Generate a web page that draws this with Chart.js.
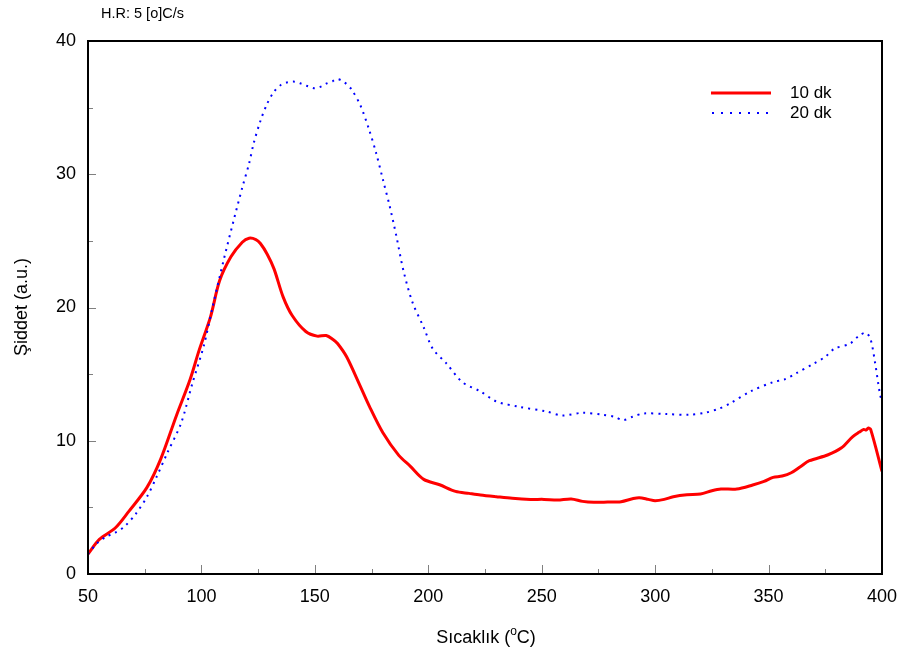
<!DOCTYPE html>
<html>
<head>
<meta charset="utf-8">
<script src="https://cdn.jsdelivr.net/npm/chart.js@4.4.1/dist/chart.umd.min.js"></script>
<style>
  html, body { margin: 0; padding: 0; background: #fff; }
  #wrap { width: 905px; height: 657px; }
</style>
</head>
<body>
<div id="wrap"><canvas id="chart" width="905" height="657"></canvas></div>
<script>
// 10 dk series
const temps10 = [50, 55, 62, 68, 76, 82, 89, 95, 99, 104, 108, 113, 118, 121, 124, 126, 129, 132, 136, 140,
    146, 151, 155, 158, 160, 164, 170, 174, 180, 187, 192, 198, 205, 212, 218, 223, 230, 237, 245, 251,
    257, 263, 268, 273, 279, 285, 290, 293, 297, 300, 304, 308, 314, 320, 325, 329, 336, 343, 348, 352,
    356, 360, 364, 368, 376, 382, 387, 390, 392, 393, 394, 395, 400];
const values10 = [1.5, 2.6, 3.45, 4.7, 6.5, 8.6, 11.9, 14.6, 16.8, 19.3, 22.0, 23.8, 24.9, 25.2, 25.1, 24.8, 24.0, 22.9, 20.8, 19.4,
    18.2, 17.85, 17.9, 17.6, 17.3, 16.3, 14.1, 12.6, 10.6, 8.9, 8.1, 7.1, 6.7, 6.2, 6.05, 5.93, 5.8, 5.68, 5.6, 5.6,
    5.55, 5.63, 5.45, 5.38, 5.4, 5.43, 5.65, 5.73, 5.6, 5.5, 5.6, 5.8, 5.95, 6.0, 6.25, 6.38, 6.38, 6.68, 6.95, 7.25,
    7.35, 7.6, 8.05, 8.5, 8.93, 9.45, 10.3, 10.65, 10.85, 10.8, 10.95, 10.85, 7.7];

// 20 dk series
const temps20 = [50, 54, 58, 62, 66, 71, 76, 80, 85, 91, 96, 101, 105, 110, 114, 118, 121, 123, 126, 129,
    132, 135, 138, 141, 144, 147, 150, 153, 155, 158, 160, 163, 166, 170, 174, 177, 180, 183, 186, 189,
    193, 198, 202, 208, 215, 223, 230, 240, 252, 259, 268, 277, 282, 286, 290, 295, 305, 315, 322, 328,
    333, 342, 352, 357, 362, 370, 375, 379, 386, 390, 393, 395, 397, 399, 400];
const values20 = [1.5, 2.3, 2.8, 3.1, 3.55, 4.5, 5.8, 7.2, 9.1, 11.3, 14.3, 17.1, 20.1, 23.7, 26.4, 29.0, 30.8, 32.3, 34.0, 35.3,
    36.2, 36.7, 36.9, 36.95, 36.8, 36.6, 36.45, 36.6, 36.8, 37.0, 37.15, 36.9, 36.4, 35.2, 33.3, 31.6, 29.6, 27.6, 25.3, 22.8,
    20.4, 18.5, 16.9, 15.8, 14.4, 13.7, 12.95, 12.55, 12.2, 11.9, 12.1, 11.95, 11.8, 11.55, 11.8, 12.05, 12.0, 11.95, 12.1, 12.4,
    12.8, 13.7, 14.4, 14.6, 15.05, 15.8, 16.3, 16.9, 17.3, 17.9, 18.1, 17.6, 15.8, 13.6, 12.9];

const xMajor = [50, 100, 150, 200, 250, 300, 350, 400];
const xMinor = [75, 125, 175, 225, 275, 325, 375];
const yMajor = [0, 10, 20, 30, 40];
const yMinor = [5, 15, 25, 35];

const FONT = '"Liberation Sans", Arial, sans-serif';

function toPoints(xs, ys) {
    return xs.map((x, i) => ({ x: x, y: ys[i] }));
}

// frame, inward ticks, legend, titles
const decorations = {
    id: 'decorations',
    afterDraw(chart) {
        const ctx = chart.ctx;
        const area = chart.chartArea;
        const xs = chart.scales.x;
        const ys = chart.scales.y;
        ctx.save();

        // ticks pointing into the plot
        ctx.strokeStyle = '#808080';
        ctx.lineWidth = 1;
        ctx.beginPath();
        xMajor.forEach((v) => { const p = Math.round(xs.getPixelForValue(v)) + 0.5; ctx.moveTo(p, area.bottom); ctx.lineTo(p, area.bottom - 9); });
        xMinor.forEach((v) => { const p = Math.round(xs.getPixelForValue(v)) + 0.5; ctx.moveTo(p, area.bottom); ctx.lineTo(p, area.bottom - 5); });
        yMajor.forEach((v) => { const p = Math.round(ys.getPixelForValue(v)) + 0.5; ctx.moveTo(area.left, p); ctx.lineTo(area.left + 8, p); });
        yMinor.forEach((v) => { const p = Math.round(ys.getPixelForValue(v)) + 0.5; ctx.moveTo(area.left, p); ctx.lineTo(area.left + 5, p); });
        ctx.stroke();

        // frame
        ctx.strokeStyle = '#000';
        ctx.lineWidth = 2;
        ctx.strokeRect(area.left, area.top, area.right - area.left, area.bottom - area.top);

        // legend
        ctx.lineWidth = 3;
        ctx.strokeStyle = '#ff0000';
        ctx.beginPath(); ctx.moveTo(711, 93); ctx.lineTo(771, 93); ctx.stroke();
        ctx.lineWidth = 2;
        ctx.strokeStyle = '#0000ff';
        ctx.setLineDash([2, 7]);
        ctx.beginPath(); ctx.moveTo(712, 113); ctx.lineTo(772, 113); ctx.stroke();
        ctx.setLineDash([]);
        ctx.fillStyle = '#000';
        ctx.font = '17px ' + FONT;
        ctx.textBaseline = 'middle';
        ctx.textAlign = 'left';
        ctx.fillText('10 dk', 790, 93);
        ctx.fillText('20 dk', 790, 113);

        // heading
        ctx.font = '14.5px ' + FONT;
        ctx.fillText('H.R: 5 [o]C/s', 101, 14);

        // y title
        ctx.font = '18px ' + FONT;
        ctx.save();
        ctx.translate(22, 307);
        ctx.rotate(-Math.PI / 2);
        ctx.textAlign = 'center';
        ctx.fillText('Şiddet (a.u.)', 0, 0);
        ctx.restore();

        // x title with superscript o
        ctx.textBaseline = 'alphabetic';
        const parts = ['Sıcaklık (', 'o', 'C)'];
        ctx.font = '18px ' + FONT;
        const w1 = ctx.measureText(parts[0]).width;
        const w3 = ctx.measureText(parts[2]).width;
        ctx.font = '12px ' + FONT;
        const w2 = ctx.measureText(parts[1]).width;
        let x0 = 486 - (w1 + w2 + w3) / 2;
        const yb = 643;
        ctx.font = '18px ' + FONT;
        ctx.fillText(parts[0], x0, yb);
        ctx.font = '12px ' + FONT;
        ctx.fillText(parts[1], x0 + w1, yb - 8);
        ctx.font = '18px ' + FONT;
        ctx.fillText(parts[2], x0 + w1 + w2, yb);

        ctx.restore();
    }
};

new Chart(document.getElementById('chart'), {
    type: 'scatter',
    data: {
        datasets: [
            {
                label: '20 dk',
                data: toPoints(temps20, values20),
                showLine: true,
                borderColor: '#0000ff',
                borderWidth: 2,
                borderDash: [2, 5],
                pointRadius: 0,
                tension: 0.3,
                fill: false,
            },
            {
                label: '10 dk',
                data: toPoints(temps10, values10),
                showLine: true,
                borderColor: '#ff0000',
                borderWidth: 3,
                pointRadius: 0,
                tension: 0.3,
                fill: false,
            },
        ],
    },
    options: {
        responsive: false,
        animation: false,
        layout: { padding: { top: 41, right: 23, left: 0, bottom: 0 } },
        plugins: {
            legend: { display: false },
            tooltip: { enabled: false },
        },
        scales: {
            x: {
                type: 'linear',
                min: 50,
                max: 400,
                grid: { display: false, drawTicks: false },
                border: { display: false },
                ticks: {
                    stepSize: 50,
                    padding: 12,
                    color: '#000',
                    font: { family: FONT, size: 18 },
                },
                afterFit(scale) {
                    scale.height = 83;
                    scale.paddingLeft = 0;
                    scale.paddingRight = 0;
                },
            },
            y: {
                min: 0,
                max: 40,
                grid: { display: false, drawTicks: false },
                border: { display: false },
                ticks: {
                    stepSize: 10,
                    padding: 12,
                    color: '#000',
                    font: { family: FONT, size: 18 },
                },
                afterFit(scale) {
                    scale.width = 88;
                    scale.paddingTop = 0;
                    scale.paddingBottom = 0;
                },
            },
        },
    },
    plugins: [decorations],
});
</script>
</body>
</html>
